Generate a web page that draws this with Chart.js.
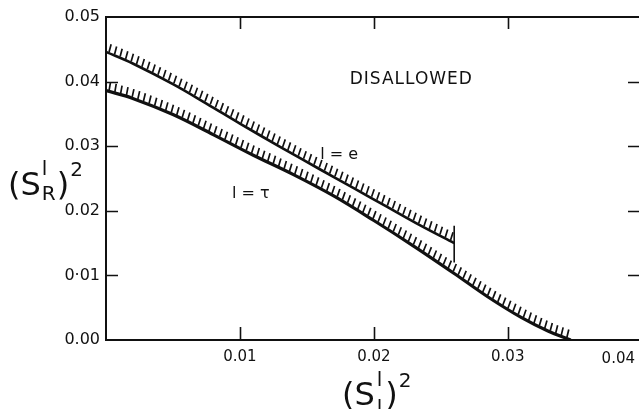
<!DOCTYPE html>
<html>
<head>
<meta charset="utf-8">
<script src="https://cdn.jsdelivr.net/npm/chart.js@4.4.1/dist/chart.umd.min.js"></script>
<style>
html, body { margin:0; padding:0; background:#fff; }
#wrap { width:639px; height:409px; }
</style>
</head>
<body>
<div id="wrap"><canvas id="chart"></canvas></div>
<script>
// boundary for l = e
var eX = [0, 0.002, 0.005, 0.0075, 0.010, 0.013, 0.016, 0.0185, 0.021, 0.0235, 0.026];
var eY = [0.0446, 0.0428, 0.0396, 0.0366, 0.0335, 0.0299, 0.0264, 0.0235, 0.0206, 0.0177, 0.0150];
// the bar closing the l = e curve
var eEndX = [0.026, 0.026];
var eEndY = [0.0177, 0.0120];
// boundary for l = tau
var tauX = [0, 0.002, 0.005, 0.008, 0.011, 0.014, 0.017, 0.020, 0.023, 0.026, 0.0285, 0.031, 0.033, 0.0347];
var tauY = [0.0386, 0.0374, 0.0349, 0.0318, 0.0286, 0.0256, 0.0223, 0.0185, 0.0145, 0.0103, 0.0067, 0.0035, 0.0014, 0.0];

var yTickLabels = ["0.00", "0·01", "0.02", "0.03", "0.04", "0.05"];
var xTickLabels = ["", "0.01", "0.02", "0.03", "0.04"];

// text notes placed in data coordinates (left x, baseline y)
var notes = [
    {text:"DISALLOWED", x:0.0182, y:0.0397, size:17},
    {text:"l = e", x:0.0160, y:0.0280, size:16},
    {text:"l = τ", x:0.0094, y:0.0220, size:16}
];

var FONT = "'DejaVu Sans', sans-serif";
var INK = "#111";

function pts(xs, ys) {
    return xs.map((x, i) => ({x:x, y:ys[i]}));
}

function bez(a, c1, c2, b, t) {
    var u = 1 - t;
    return u*u*u*a + 3*u*u*t*c1 + 3*u*t*t*c2 + t*t*t*b;
}

// small slanted ticks on the upper side of a curve
var hatchPlugin = {
    id:'hatch',
    afterDatasetsDraw: function(chart) {
        var ctx = chart.ctx;
        chart.data.datasets.forEach(function(ds, i) {
            if(!ds.hatch) return;
            var el = chart.getDatasetMeta(i).data;
            var path = [];
            for(var k = 0; k < el.length - 1; k++) {
                var a = el[k], b = el[k+1];
                var c1x = a.cp2x !== undefined ? a.cp2x : a.x;
                var c1y = a.cp2y !== undefined ? a.cp2y : a.y;
                var c2x = b.cp1x !== undefined ? b.cp1x : b.x;
                var c2y = b.cp1y !== undefined ? b.cp1y : b.y;
                for(var s = 0; s < 40; s++) {
                    var t = s / 40;
                    path.push([bez(a.x, c1x, c2x, b.x, t), bez(a.y, c1y, c2y, b.y, t)]);
                }
            }
            var last = el[el.length-1];
            path.push([last.x, last.y]);

            ctx.save();
            ctx.strokeStyle = INK;
            ctx.lineWidth = 1.7;
            ctx.lineCap = 'butt';
            ctx.beginPath();
            var gap = ds.hatchGap, acc = gap / 2;
            for(var k = 0; k < path.length - 1; k++) {
                var p = path[k], q = path[k+1];
                var dx = q[0] - p[0], dy = q[1] - p[1];
                var L = Math.sqrt(dx*dx + dy*dy);
                if(L === 0) continue;
                var tx = dx / L, ty = dy / L;
                while(acc <= L) {
                    var px = p[0] + tx*acc, py = p[1] + ty*acc;
                    var nx = ty, ny = -tx - 0.55;
                    var nl = Math.sqrt(nx*nx + ny*ny);
                    nx /= nl; ny /= nl;
                    ctx.moveTo(px + nx*1.2, py + ny*1.2);
                    ctx.lineTo(px + nx*(1.2 + ds.hatchLen), py + ny*(1.2 + ds.hatchLen));
                    acc += gap;
                }
                acc -= L;
            }
            ctx.stroke();
            ctx.restore();
        });
    }
};

function drawParts(ctx, x, parts) {
    // parts: main glyphs, or stacked sup/sub pairs
    parts.forEach(function(p) {
        ctx.font = p.size + "px " + FONT;
        if(p.stack) {
            var w = 0;
            p.stack.forEach(function(s) {
                ctx.fillText(s.t, x, s.y);
                w = Math.max(w, ctx.measureText(s.t).width);
            });
            x += w + (p.after || 0);
        } else {
            ctx.fillText(p.t, x, p.y);
            x += ctx.measureText(p.t).width + (p.after || 0);
        }
    });
}

var framePlugin = {
    id:'frame',
    afterDraw: function(chart) {
        var ctx = chart.ctx;
        var a = chart.chartArea;
        var xs = chart.scales.x, ys = chart.scales.y;
        ctx.save();
        ctx.strokeStyle = INK;
        ctx.fillStyle = INK;

        // box: top, left, bottom
        ctx.lineWidth = 2;
        ctx.beginPath();
        ctx.moveTo(a.right, a.top);
        ctx.lineTo(a.left, a.top);
        ctx.lineTo(a.left, a.bottom);
        ctx.lineTo(a.right, a.bottom);
        ctx.stroke();

        // inward tick marks
        ctx.lineWidth = 1.6;
        ctx.beginPath();
        xs.ticks.forEach(function(t) {
            if(t.value <= 0) return;
            var px = Math.round(xs.getPixelForValue(t.value)) + 0.5;
            ctx.moveTo(px, a.bottom); ctx.lineTo(px, a.bottom - 13);
            ctx.moveTo(px, a.top); ctx.lineTo(px, a.top + 12);
        });
        ys.ticks.forEach(function(t) {
            if(t.value <= 0 || t.value >= 0.05) return;
            var py = Math.round(ys.getPixelForValue(t.value)) + 0.5;
            ctx.moveTo(a.left, py); ctx.lineTo(a.left + 12, py);
            ctx.moveTo(a.right, py); ctx.lineTo(a.right - 11, py);
        });
        ctx.stroke();

        // last x label sits inside the edge
        ctx.font = "15px " + FONT;
        ctx.textAlign = 'right';
        ctx.textBaseline = 'alphabetic';
        ctx.fillText(xTickLabels[4], a.right - 4, a.bottom + 23);

        // notes
        ctx.textAlign = 'left';
        notes.forEach(function(n) {
            ctx.font = n.size + "px " + FONT;
            ctx.letterSpacing = n.text === "DISALLOWED" ? "1px" : "0px";
            ctx.fillText(n.text, xs.getPixelForValue(n.x), ys.getPixelForValue(n.y));
        });
        ctx.letterSpacing = "0px";

        // y axis title (S_R^l)^2
        drawParts(ctx, 8, [
            {t:"(", size:32, y:195},
            {t:"S", size:32, y:195, after:1},
            {stack:[{t:"l", y:175}, {t:"R", y:200}], size:20, after:1},
            {t:")", size:32, y:195, after:1},
            {t:"2", size:20, y:176}
        ]);

        // x axis title (S_l^l)^2
        drawParts(ctx, 342, [
            {t:"(", size:32, y:405},
            {t:"S", size:32, y:405, after:2},
            {stack:[{t:"l", y:386}, {t:"l", y:414}], size:20, after:3},
            {t:")", size:32, y:405, after:1},
            {t:"2", size:20, y:387}
        ]);

        ctx.restore();
    }
};

var ctx = document.getElementById("chart");
var chart = new Chart(ctx, {
    type:'scatter',
    data:{
        datasets:[
            {
                label:"l = e",
                data:pts(eX, eY),
                showLine:true,
                borderColor:INK,
                borderWidth:2.7,
                pointRadius:0,
                tension:0.35,
                hatch:true, hatchGap:6, hatchLen:8
            },
            {
                label:"l = e end",
                data:pts(eEndX, eEndY),
                showLine:true,
                borderColor:INK,
                borderWidth:1.6,
                pointRadius:0
            },
            {
                label:"l = τ",
                data:pts(tauX, tauY),
                showLine:true,
                borderColor:INK,
                borderWidth:3.2,
                pointRadius:0,
                tension:0.35,
                hatch:true, hatchGap:6, hatchLen:8
            }
        ]
    },
    options:{
        responsive:true,
        maintainAspectRatio:false,
        animation:false,
        layout:{ padding:{left:46, top:17, right:0, bottom:0} },
        plugins:{
            legend:{ display:false },
            tooltip:{ enabled:false }
        },
        scales:{
            x:{
                type:'linear',
                min:0,
                max:0.0398,
                grid:{ display:false, drawTicks:false },
                border:{ display:false },
                ticks:{
                    stepSize:0.01,
                    includeBounds:false,
                    autoSkip:false,
                    maxRotation:0,
                    padding:8,
                    color:INK,
                    font:{ family:FONT, size:15 },
                    callback:function(v) {
                        return xTickLabels[Math.round(v / 0.01)] || "";
                    }
                },
                afterFit:function(s) { s.height = 69; }
            },
            y:{
                type:'linear',
                min:0,
                max:0.05,
                grid:{ display:false, drawTicks:false },
                border:{ display:false },
                ticks:{
                    stepSize:0.01,
                    padding:6,
                    color:INK,
                    font:{ family:FONT, size:16 },
                    callback:function(v) {
                        return yTickLabels[Math.round(v / 0.01)];
                    }
                },
                afterFit:function(s) { s.width = 60; }
            }
        }
    },
    plugins:[hatchPlugin, framePlugin]
});
</script>
</body>
</html>
